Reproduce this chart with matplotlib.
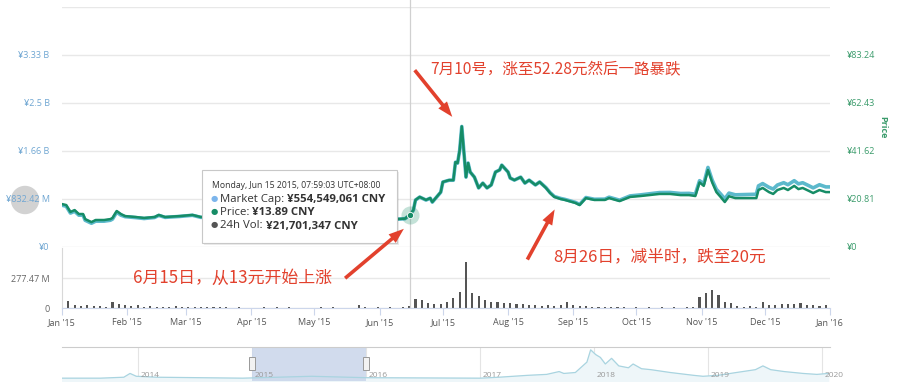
import numpy as np
import matplotlib.pyplot as plt
from matplotlib.patches import FancyArrowPatch, FancyBboxPatch, Ellipse, Rectangle
import matplotlib.transforms as mtransforms

plt.rcParams['font.family'] = ['Open Sans', 'DejaVu Sans']

start = np.datetime64('2015-01-01')

# price (CNY) and market cap (M CNY), days counted from 2015-01-01
price_days = [0, 2, 4, 6, 8, 10, 11, 14, 16, 20, 23, 24, 26, 28, 30, 35, 39, 44, 46, 49,
              56, 62, 66, 80, 100, 120, 140, 155, 159, 163, 165.33, 167, 168, 170, 173, 175,
              176, 180, 181, 184, 186, 187, 188, 189, 190, 192, 193, 194, 196, 198, 200,
              202, 204, 206, 208, 209, 212, 213, 215, 218, 220, 222, 225, 227, 230, 232,
              234, 237, 239, 244, 246, 249, 253, 258, 260, 265, 270, 275, 279, 284, 289,
              294, 298, 301, 303, 305, 307, 309, 311, 313, 315, 317, 320, 325, 330, 331,
              333, 336, 338, 340, 343, 345, 348, 350, 352, 355, 357, 360, 363, 365]
price = [18.6, 18.2, 15.2, 16.0, 14.3, 14.3, 12.1, 10.8, 11.7, 11.7, 12.1, 12.6, 15.6, 14.3,
         13.4, 13.0, 12.6, 13.0, 13.9, 13.0, 13.4, 13.9, 13.0, 13.2, 13.5, 13.3, 13.4, 12.6,
         12.1, 12.3, 13.89, 16.0, 20.4, 21.7, 20.4, 21.2, 19.5, 23.8, 28.2, 29.0, 29.0, 36.8,
         36.4, 42.0, 52.28, 30.3, 36.4, 32.5, 30.3, 25.6, 27.7, 25.6, 26.9, 32.5, 33.4, 35.5,
         32.5, 29.9, 29.0, 30.3, 27.7, 29.0, 26.9, 28.2, 25.6, 23.4, 21.7, 20.8, 20.4, 19.1,
         18.2, 21.2, 20.4, 20.4, 21.2, 19.9, 21.7, 22.1, 22.5, 23.0, 23.0, 22.5, 22.5, 22.1,
         28.0, 26.5, 33.4, 28.0, 23.8, 21.7, 19.5, 22.0, 21.2, 21.2, 21.2, 24.7, 25.6, 23.8,
         23.0, 24.7, 25.6, 24.7, 26.5, 25.1, 25.6, 24.3, 23.4, 24.7, 23.8, 23.8]
mcap = [724, 708, 588, 620, 552, 552, 464, 412, 448, 448, 464, 484, 604, 552, 526, 510, 494,
        512, 548, 514, 530, 550, 514, 524, 536, 530, 534, 502, 482, 490, 554.5, 638, 814, 866,
        814, 846, 778, 950, 1126, 1158, 1158, 1470, 1454, 1678, 2090, 1212, 1456, 1300, 1212,
        1024, 1108, 1024, 1076, 1300, 1336, 1420, 1300, 1196, 1160, 1212, 1108, 1160, 1076,
        1128, 1030, 942, 876, 842, 826, 774, 738, 858, 828, 830, 864, 812, 886, 904, 922, 944,
        946, 928, 930, 916, 1150, 1095, 1380, 1160, 1000, 920, 835, 935, 905, 910, 915, 1060,
        1100, 1035, 1005, 1075, 1115, 1080, 1150, 1095, 1115, 1062, 1025, 1080, 1042, 1042]

# 24h volume (M CNY), one value per 3 days
vol = [25, 62, 30, 22, 28, 15, 20, 12, 58, 40, 28, 20, 25, 12, 18, 10, 8, 6, 15, 8,
       5, 10, 6, 12, 8, 5, 10, 4, 6, 3, 4, 2, 5, 3, 6, 3, 8, 4, 3, 2,
       3, 5, 2, 6, 3, 4, 2, 25, 8, 4, 6, 3, 5, 4, 6, 22, 85, 75, 45, 35,
       40, 55, 90, 150, 425, 135, 110, 70, 60, 55, 45, 50, 40, 35, 30, 28, 22, 25, 20, 30,
       60, 25, 15, 20, 10, 8, 12, 6, 5, 8, 4, 6, 3, 5, 4, 6, 3, 5, 4, 6,
       8, 105, 135, 165, 120, 60, 45, 20, 12, 15, 10, 60, 25, 30, 35, 40, 38, 45, 30, 28,
       20, 25]

nav_dates = ['2013-05-01', '2013-09-01', '2013-11-15', '2013-12-05', '2013-12-25', '2014-03-01',
             '2014-12-01', '2015-07-10', '2015-12-31', '2016-12-31', '2017-03-01', '2017-06-01',
             '2017-08-01', '2017-09-10', '2017-09-25', '2017-11-01', '2017-12-08', '2017-12-20',
             '2018-01-05', '2018-01-20', '2018-02-05', '2018-02-25', '2018-03-20', '2018-04-20',
             '2018-05-05', '2018-06-01', '2018-07-01', '2018-09-01', '2018-11-15', '2018-12-15',
             '2019-02-01', '2019-04-01', '2019-06-01', '2019-06-25', '2019-07-20', '2019-09-01',
             '2019-11-01', '2019-12-15', '2020-01-20']
nav_vals = [3, 3, 4, 8, 5, 4, 3, 5, 3.5, 3, 4, 6, 7, 10, 8, 9, 20, 33, 28, 25, 18, 24, 16, 14,
            18, 13, 12, 9, 6, 5, 6, 9, 12, 16, 12, 10, 8, 7, 8]

month_labels = ["Jan '15", "Feb '15", "Mar '15", "Apr '15", "May '15", "Jun '15", "Jul '15",
                "Aug '15", "Sep '15", "Oct '15", "Nov '15", "Dec '15", "Jan '16"]
month_dates = ['2015-01-01', '2015-02-01', '2015-03-01', '2015-04-01', '2015-05-01', '2015-06-01',
               '2015-07-01', '2015-08-01', '2015-09-01', '2015-10-01', '2015-11-01', '2015-12-01',
               '2016-01-01']
cap_ticks = [0, 832.42, 1664.84, 2497.26, 3329.68, 4162.1]
cap_labels = ['¥0', '¥832.42 M', '¥1.66 B', '¥2.5 B', '¥3.33 B', '']
price_ticks = [0, 20.81, 41.62, 62.43, 83.24, 104.05]
price_labels = ['¥0', '¥20.81', '¥41.62', '¥62.43', '¥83.24', '']
years = ['2014', '2015', '2016', '2017', '2018', '2019', '2020']

c_cap = '#5cb9cc'
c_price = '#168c66'
c_cap_lbl = '#6fa6d2'
c_price_lbl = '#3a9b6b'
c_red = '#e2412d'
grid_c = '#e8e8e8'

W, H = 900, 385
fig = plt.figure(figsize=(9, 3.85), dpi=100)


def fbox(x0, y0, x1, y1):
    return [x0 / W, 1 - y1 / H, (x1 - x0) / W, (y1 - y0) / H]


def fp(x, y):
    return (x / W, 1 - y / H)


p_dates = start + (np.array(price_days) * 24 * 60).astype('timedelta64[m]')
x0, x1 = np.datetime64('2015-01-01'), np.datetime64('2016-01-01')
hover = np.datetime64('2015-06-15T07:59')

# main panel
ax = fig.add_axes(fbox(62, 7, 830, 247))
ax.plot(p_dates, mcap, color=c_cap, lw=2.6, solid_joinstyle='round')
ax.set_xlim(x0, x1)
ax.set_ylim(0, cap_ticks[-1])
ax.set_yticks(cap_ticks, cap_labels)
ax.grid(axis='y', color=grid_c, lw=1)
ax.tick_params(axis='y', length=0, labelsize=6.5, labelcolor=c_cap_lbl, pad=9)
ax.tick_params(axis='x', length=0, labelbottom=False)
for s in ax.spines.values():
    s.set_visible(False)
ax.axvline(hover, ymin=0, ymax=1.04, color='#d0d0d0', lw=0.9, clip_on=False)

ax2 = ax.twinx()
ax2.plot(p_dates, price, color=c_price, lw=1.8, solid_joinstyle='round')
ax2.set_ylim(0, price_ticks[-1])
ax2.set_yticks(price_ticks, price_labels)
ax2.tick_params(axis='y', length=0, labelsize=6.5, labelcolor=c_price_lbl, pad=12)
for s in ax2.spines.values():
    s.set_visible(False)
ax2.plot([hover], [13.89], 'o', ms=13, color=c_price, alpha=0.25, mec='none')
ax2.plot([hover], [13.89], 'o', ms=4.5, color=c_price, mec='white', mew=0.6)
fig.text(883 / W, 1 - 127 / H, 'Price', rotation=270, ha='center', va='center',
         color=c_price_lbl, fontsize=6.5, fontweight='bold')

# volume panel
axv = fig.add_axes(fbox(62, 248, 830, 308))
v_dates = start + np.arange(len(vol)) * 3
axv.bar(v_dates, vol, width=1.0, color='#555555')
axv.set_xlim(x0, x1)
axv.set_ylim(0, 554.94)
axv.set_yticks([0, 277.47], ['0', '277.47 M'])
axv.grid(axis='y', color=grid_c, lw=1)
axv.set_axisbelow(True)
axv.set_xticks(np.array(month_dates, dtype='datetime64[D]'), month_labels)
axv.tick_params(axis='y', length=0, labelsize=6.5, labelcolor='#666666', pad=9)
axv.tick_params(axis='x', length=5, color='#ccd6eb', labelsize=6.5, labelcolor='#555555', pad=2)
for k in ['top', 'right']:
    axv.spines[k].set_visible(False)
axv.spines['left'].set_color('#d8d8d8')
axv.spines['bottom'].set_color('#ccd6eb')
axv.axvline(hover, color='#d0d0d0', lw=0.9)

# navigator
axn = fig.add_axes(fbox(62, 347, 830, 381))
n_dates = np.array(nav_dates, dtype='datetime64[D]')
axn.fill_between(n_dates, nav_vals, color='#eef6f9')
axn.plot(n_dates, nav_vals, color='#a9d4e0', lw=0.9)
axn.set_xlim(np.datetime64('2013-05-01'), np.datetime64('2020-01-26'))
axn.set_ylim(0, 36)
axn.axvspan(x0, x1, color='#c9d5ea', alpha=0.85, lw=0)
for y in years:
    d = np.datetime64(y + '-01-01')
    axn.axvline(d, color='#e4e4e4', lw=0.8, zorder=0)
    axn.text(d + np.timedelta64(8, 'D'), 0.17, y, transform=axn.get_xaxis_transform(),
             fontsize=6, color='#999999', ha='left', va='center')
tr = mtransforms.blended_transform_factory(axn.transData, axn.transAxes)
for d in [x0, x1]:
    axn.add_patch(Rectangle((d - np.timedelta64(10, 'D'), 0.32), np.timedelta64(20, 'D'), 0.4,
                            transform=tr, facecolor='#f2f2f2', edgecolor='#999999', lw=0.7,
                            zorder=5))
axn.set_xticks([])
axn.set_yticks([])
for k in ['left', 'right', 'bottom']:
    axn.spines[k].set_visible(False)
axn.spines['top'].set_color('#cccccc')

# grey highlight circle on left axis
fig.add_artist(Ellipse(fp(25, 200), 27 / W, 27 / H, color='#d2d2d2', zorder=-1))

# tooltip
fig.add_artist(FancyBboxPatch(fp(204, 245), 195 / W, 73 / H, boxstyle='square,pad=0',
                              transform=fig.transFigure, facecolor='#000000', alpha=0.08,
                              lw=0, zorder=9))
fig.add_artist(FancyBboxPatch(fp(202, 243), 195 / W, 73 / H, boxstyle='square,pad=0',
                              transform=fig.transFigure, facecolor='white',
                              edgecolor='#c8c8c8', lw=0.8, zorder=10))
fig.text(*fp(212, 186), 'Monday, Jun 15 2015, 07:59:03 UTC+08:00', fontsize=6.2,
         color='#333333', va='center', zorder=11)
rows = [('#7cb5ec', 'Market Cap: ', '¥554,549,061 CNY', 200),
        (c_price, 'Price: ', '¥13.89 CNY', 213),
        ('#555555', '24h Vol: ', '¥21,701,347 CNY', 226)]
for col, lab, val, y in rows:
    fig.text(*fp(211, y), '●', fontsize=6, color=col, va='center', ha='left', zorder=11)
    t = fig.text(*fp(220, y), lab, fontsize=8.2, color='#333333', va='center', zorder=11)
    fig.add_artist(plt.Annotation(val, xy=(1, 0.5), xycoords=t, va='center', ha='left',
                                  fontsize=8.2, fontweight='bold', color='#333333', zorder=11))

# red annotations
cjk = ['Noto Sans CJK SC', 'DejaVu Sans']
fig.text(*fp(430, 70), '7月10号，涨至52.28元然后一路暴跌', family=cjk, fontsize=11.2,
         color=c_red, va='center', ha='left', zorder=12)
fig.text(*fp(133, 278), '6月15日，从13元开始上涨', family=cjk, fontsize=12.2,
         color=c_red, va='center', ha='left', zorder=12)
fig.text(*fp(553, 257), '8月26日，减半时，跌至20元', family=cjk, fontsize=12,
         color=c_red, va='center', ha='left', zorder=12)
arrows = [((413, 68), (454, 119)), ((343, 280), (406, 227)), ((526, 262), (556, 207))]
for a, b in arrows:
    fig.add_artist(FancyArrowPatch(fp(*a), fp(*b), transform=fig.transFigure,
                                   arrowstyle='simple,head_width=8,head_length=11,tail_width=2.6',
                                   mutation_scale=1, color=c_red, lw=0, zorder=12))

fig.savefig('out.png', dpi=100)
